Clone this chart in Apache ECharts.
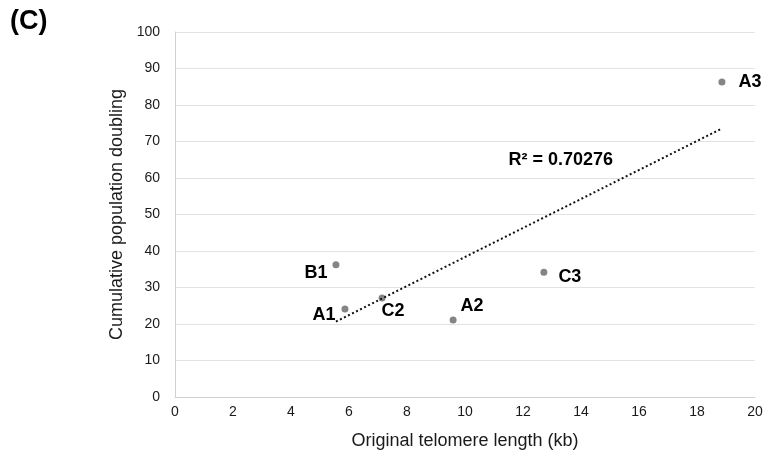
<!DOCTYPE html>
<html><head><meta charset="utf-8">
<script src="https://cdn.jsdelivr.net/npm/echarts@6/dist/echarts.min.js"></script>
<style>html,body{margin:0;padding:0;background:#fff}#c{width:767px;height:459px}</style>
</head><body><div id="c"></div>
<script>
const names = ['B1','A1','C2','A2','C3','A3'];
const telomere = [5.55, 5.86, 7.14, 9.59, 12.72, 18.86];
const doubling = [36.2, 24.1, 27.1, 21.1, 34.2, 86.3];
const xTicks = [0,2,4,6,8,10,12,14,16,18,20];
const yTicks = [0,10,20,30,40,50,60,70,80,90,100];
const rSquaredText = 'R² = 0.70276';

// label placement per point (style, not data): centred label offset in px
const labelOffset = {
  B1:[-20,8], A1:[-21,6], C2:[11,13], A2:[19,-14], C3:[26,5], A3:[28,0]
};

// linear regression trendline from data
const n = telomere.length;
const mx = telomere.reduce((a,b)=>a+b,0)/n;
const my = doubling.reduce((a,b)=>a+b,0)/n;
let sxy=0,sxx=0;
for(let i=0;i<n;i++){sxy+=(telomere[i]-mx)*(doubling[i]-my);sxx+=(telomere[i]-mx)**2;}
const slope=sxy/sxx, icpt=my-slope*mx;
const xMin=Math.min(...telomere), xMax=Math.max(...telomere);
const trend=[[xMin,icpt+slope*xMin],[xMax,icpt+slope*xMax]];

const chart = echarts.init(document.getElementById('c'));
chart.setOption({
  animation:false,
  textStyle:{fontFamily:'Liberation Sans, Arial, sans-serif'},
  grid:{left:175,right:12,top:32,bottom:62},
  xAxis:{type:'value',min:xTicks[0],max:xTicks[xTicks.length-1],interval:2,
    name:'Original telomere length (kb)',nameLocation:'middle',nameGap:35,
    nameTextStyle:{fontSize:18,color:'#1a1a1a'},
    axisLine:{show:true,lineStyle:{color:'#d0d0d0'}},axisTick:{show:false},
    axisLabel:{fontSize:14,color:'#1a1a1a',margin:8},splitLine:{show:false}},
  yAxis:{type:'value',min:yTicks[0],max:yTicks[yTicks.length-1],interval:10,
    name:'Cumulative population doubling',nameLocation:'middle',nameGap:46,
    nameTextStyle:{fontSize:18,color:'#1a1a1a'},
    axisLine:{show:true,lineStyle:{color:'#d0d0d0'}},axisTick:{show:false},
    axisLabel:{fontSize:14,color:'#1a1a1a',margin:15},
    splitLine:{show:true,lineStyle:{color:'#e2e2e2'}}},
  graphic:[{type:'text',left:10,top:8,style:{text:'(C)',font:'bold 27px Liberation Sans, Arial',fill:'#000'}}],
  series:[
    {type:'line',data:trend,symbol:'none',silent:true,
     lineStyle:{color:'#111',width:2,type:[2,2.5]},
     markPoint:{symbol:'circle',symbolSize:0,
       data:[{coord:[13.3,64.9],label:{show:true,formatter:rSquaredText,fontSize:18,fontWeight:'bold',color:'#000',textBorderWidth:0}}]}},
    {type:'scatter',symbolSize:7,itemStyle:{color:'#858585',opacity:1},
     data:names.map((nm,i)=>({name:nm,value:[telomere[i],doubling[i]],
       label:{show:true,formatter:nm,position:'inside',offset:labelOffset[nm],
         fontFamily:'Liberation Sans',fontSize:18,fontWeight:'bold',color:'#000',
         textBorderWidth:0,textBorderColor:'transparent'}}))}
  ]
});
</script></body></html>
